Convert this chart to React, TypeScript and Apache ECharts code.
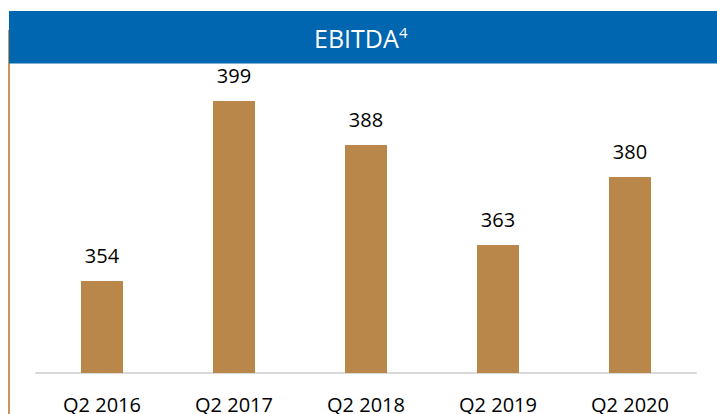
import React, { useEffect, useRef } from "react";
import * as echarts from "echarts";

const categories = ["Q2 2016", "Q2 2017", "Q2 2018", "Q2 2019", "Q2 2020"];
const ebitda = [354, 399, 388, 363, 380];
const titleText = "EBITDA";
const titleSup = "4";

export default function App() {
  const ref = useRef<HTMLDivElement>(null);
  useEffect(() => {
    if (!ref.current) return;
    const chart = echarts.init(ref.current, undefined, { renderer: "svg" });
    const font = "'Open Sans', sans-serif";
    chart.setOption({
      animation: false,
      backgroundColor: "#ffffff",
      grid: { left: 36, right: 21, top: 97, bottom: 40.5 },
      xAxis: {
        type: "category",
        data: categories,
        axisLine: { show: true, lineStyle: { color: "#D9D9D9", width: 2 } },
        axisTick: { show: false },
        axisLabel: {
          color: "#000000",
          fontFamily: font,
          fontSize: 20,
          margin: 21,
          lineHeight: 20,
        },
      },
      yAxis: {
        type: "value",
        min: 331,
        max: 400,
        show: false,
        splitLine: { show: false },
      },
      series: [
        {
          type: "bar",
          data: ebitda,
          barWidth: 42,
          itemStyle: { color: "#B9874A" },
          label: {
            show: true,
            position: "top",
            distance: 16,
            color: "#000000",
            fontFamily: font,
            fontSize: 20,
            lineHeight: 20,
          },
        },
      ],
      graphic: [
        {
          type: "rect",
          shape: { x: 9, y: 11, width: 720, height: 52.5 },
          style: { fill: "#0066B0" },
          z: 10,
        },
        {
          type: "line",
          shape: { x1: 9, y1: 30, x2: 9, y2: 414 },
          style: { stroke: "#C8955A", lineWidth: 2 },
          z: 5,
        },
        {
          type: "text",
          x: 314,
          y: 38,
          style: {
            text: titleText,
            fill: "#ffffff",
            font: `25px ${font}`,
            align: "left",
            verticalAlign: "middle",
          },
          z: 11,
        },
        {
          type: "text",
          x: 399,
          y: 32,
          style: {
            text: titleSup,
            fill: "#ffffff",
            font: `15px ${font}`,
            align: "left",
            verticalAlign: "middle",
          },
          z: 11,
        },
      ],
    });
    return () => chart.dispose();
  }, []);
  return <div ref={ref} style={{ width: 717, height: 414, position: "absolute", left: 0, top: 0 }} />;
}
